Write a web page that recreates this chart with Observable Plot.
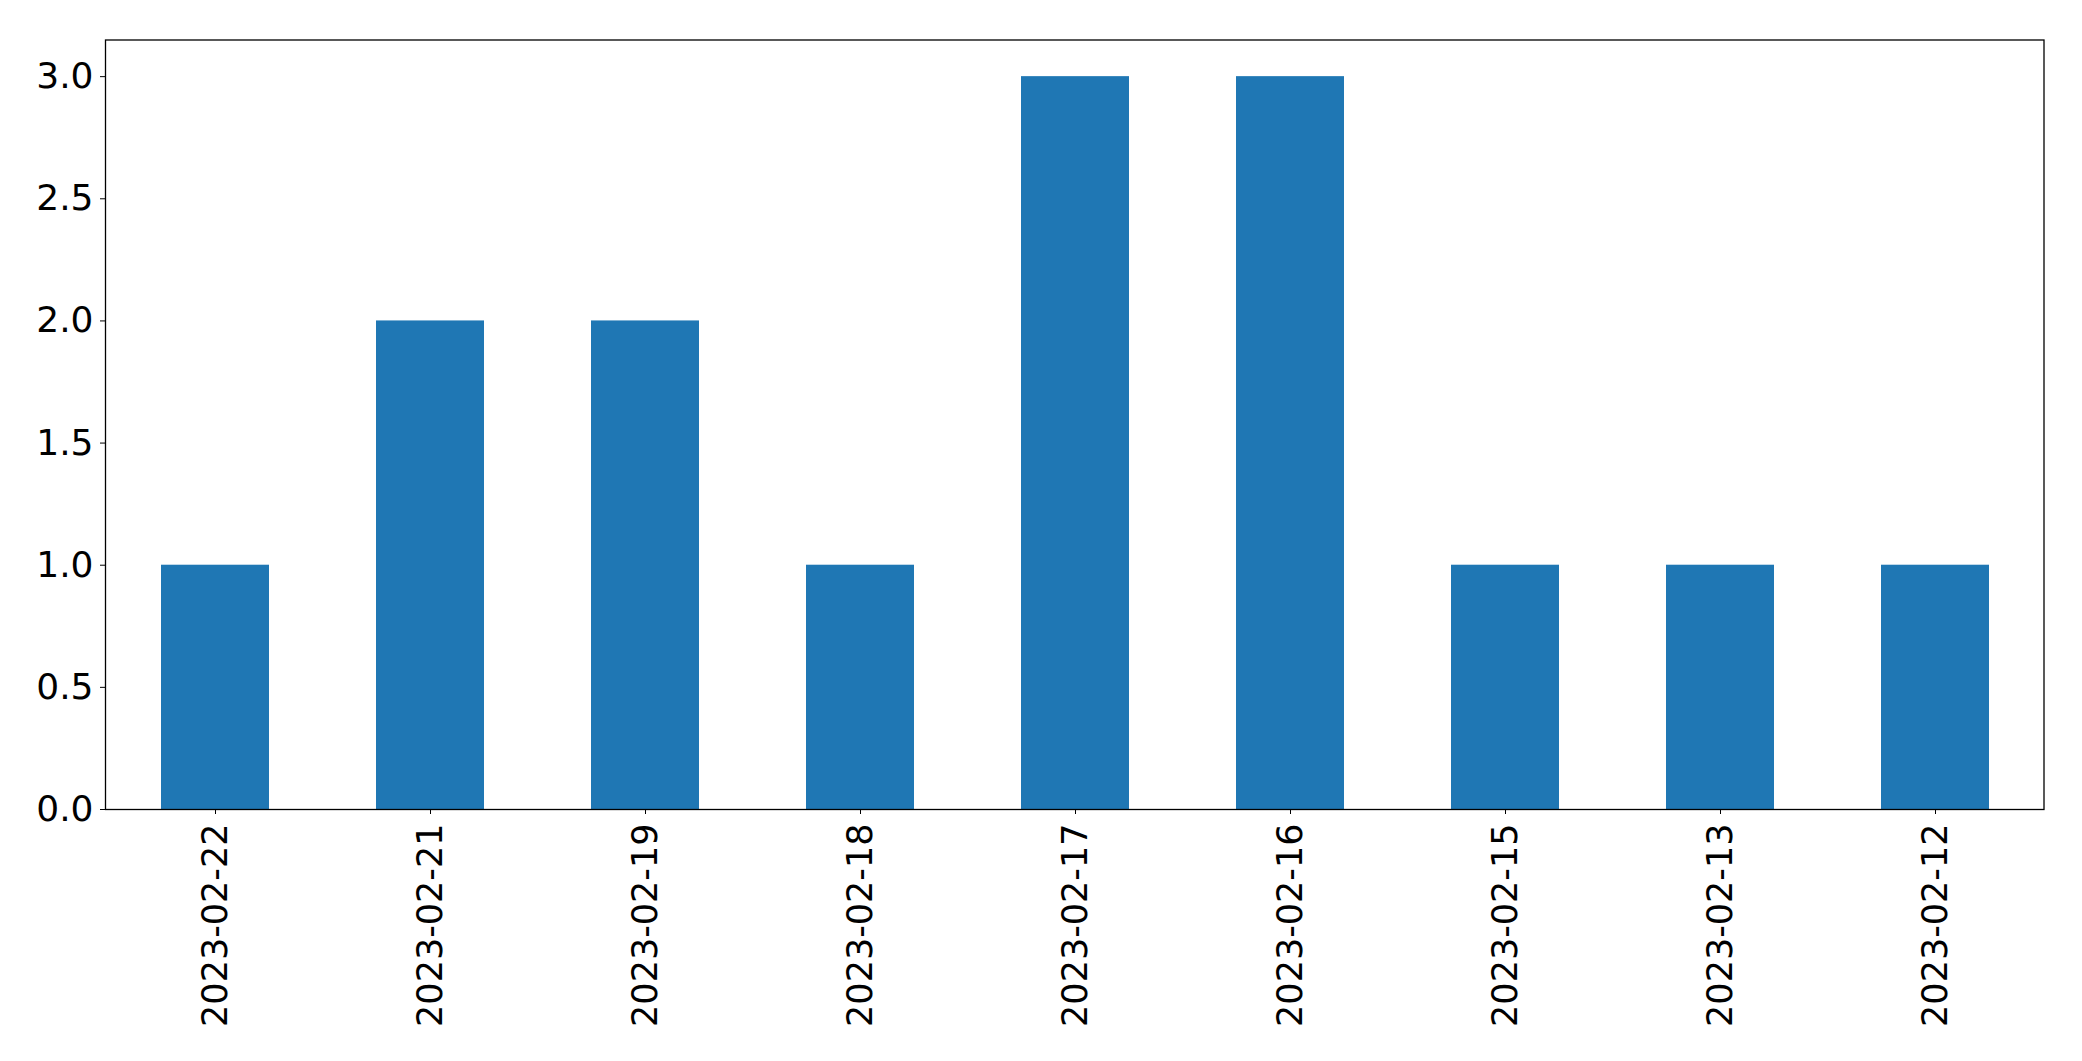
<!DOCTYPE html>
<html>
<head>
<meta charset="utf-8">
<script src="https://cdn.jsdelivr.net/npm/d3@7"></script>
<script src="https://cdn.jsdelivr.net/npm/@observablehq/plot@0.6"></script>
<style>
  html, body { margin: 0; padding: 0; background: #fff; }
  #chart svg { display: block; }
</style>
</head>
<body>
<div id="chart"></div>
<script>
const dates = ["2023-02-22", "2023-02-21", "2023-02-19", "2023-02-18", "2023-02-17", "2023-02-16", "2023-02-15", "2023-02-13", "2023-02-12"];
const counts = [1, 2, 2, 1, 3, 3, 1, 1, 1];
const yTicks = [0, 0.5, 1, 1.5, 2, 2.5, 3];

const data = dates.map((d, i) => ({date: d, count: counts[i]}));

const chart = Plot.plot({
  width: 2082,
  height: 1061,
  marginLeft: 105,
  marginRight: 38.5,
  marginTop: 39.5,
  marginBottom: 252,
  style: {fontFamily: "DejaVu Sans", fontSize: "35px", color: "#000", background: "#fff"},
  x: {type: "band", domain: dates, paddingInner: 0.5, paddingOuter: 0.25, label: null},
  y: {domain: [0, 3.15], label: null},
  marks: [
    Plot.barY(data, {x: "date", y: "count", fill: "#1f77b4", inset: 0}),
    Plot.axisY({ticks: yTicks, tickFormat: d3.format(".1f"), tickSize: 5, tickPadding: 7, fontSize: 36, label: null, stroke: "#000"}),
    Plot.axisX({tickRotate: -90, tickSize: 5, tickPadding: 9, fontSize: 35, label: null, stroke: "#000"}),
    Plot.frame({stroke: "#000", strokeWidth: 1.3})
  ]
});
document.getElementById("chart").appendChild(chart);
</script>
</body>
</html>
